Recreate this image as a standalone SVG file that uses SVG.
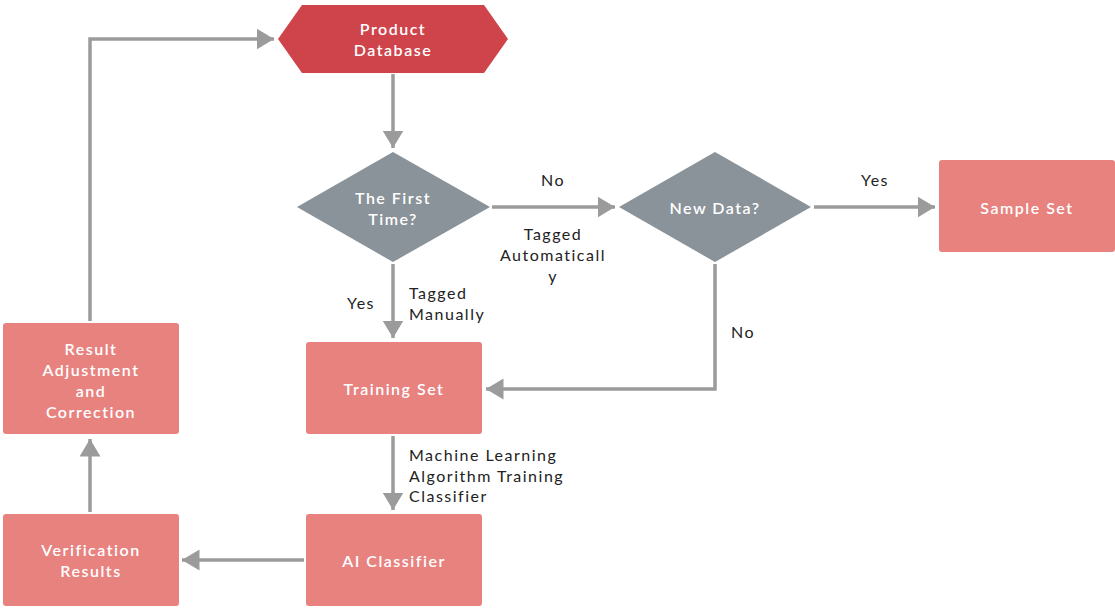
<svg xmlns="http://www.w3.org/2000/svg" width="1115" height="608" viewBox="0 0 1115 608">
<defs>
<marker id="ah" markerWidth="6" markerHeight="6" refX="5" refY="3" orient="auto" markerUnits="strokeWidth">
<path d="M0,0 L5,3 L0,6 Z" fill="#9b9b9b"/>
</marker>
<style>
.c{fill:none;stroke:#9b9b9b;stroke-width:3.5;marker-end:url(#ah)}
.n{fill:#e8827f}
.d{fill:#8a9399}
.t{font-family:Lato,"Noto Sans",sans-serif;font-size:16px;font-weight:600;fill:#ffffff;text-anchor:middle;letter-spacing:1.5px}
.l{font-family:Lato,"Noto Sans",sans-serif;font-size:16px;fill:#222222;letter-spacing:1.5px}
</style>
</defs>
<rect width="1115" height="608" fill="#ffffff"/>
<g id="connectors">
<path class="c" d="M393,74 V148"/>
<path class="c" d="M492,207 H615"/>
<path class="c" d="M814,207 H935"/>
<path class="c" d="M393,264 V338"/>
<path class="c" d="M715,264 V389 H486"/>
<path class="c" d="M393,436 V510"/>
<path class="c" d="M304,560 H182"/>
<path class="c" d="M90,512 V439"/>
<path class="c" d="M90,321 V39 H274"/>
</g>
<g id="labels">
<text class="l" x="553" y="186" text-anchor="middle">No</text>
<text class="l" x="553" y="240" text-anchor="middle">Tagged</text>
<text class="l" x="553" y="261" text-anchor="middle">Automaticall</text>
<text class="l" x="553" y="282" text-anchor="middle">y</text>
<text class="l" x="875" y="186" text-anchor="middle">Yes</text>
<text class="l" x="361" y="309" text-anchor="middle">Yes</text>
<text class="l" x="409" y="299">Tagged</text>
<text class="l" x="409" y="320">Manually</text>
<text class="l" x="731" y="338">No</text>
<text class="l" x="409" y="461">Machine Learning</text>
<text class="l" x="409" y="482">Algorithm Training</text>
<text class="l" x="409" y="502">Classifier</text>
</g>
<g id="product-database">
<path d="M278,39 L302,5 H484 L508,39 L484,73 H302 Z" fill="#cf444b"/>
<text class="t" x="393" y="35">Product</text>
<text class="t" x="393" y="56">Database</text>
</g>
<g id="first-time">
<path class="d" d="M393,152 L490,207 L393,262 L297,207 Z"/>
<text class="t" x="393" y="204">The First</text>
<text class="t" x="393" y="225">Time?</text>
</g>
<g id="new-data">
<path class="d" d="M715,152 L811,207 L715,262 L619,207 Z"/>
<text class="t" x="715" y="214">New Data?</text>
</g>
<g id="sample-set">
<rect class="n" x="939" y="160" width="176" height="92" rx="3"/>
<text class="t" x="1027" y="214">Sample Set</text>
</g>
<g id="training-set">
<rect class="n" x="306" y="342" width="176" height="92" rx="3"/>
<text class="t" x="394" y="395">Training Set</text>
</g>
<g id="ai-classifier">
<rect class="n" x="306" y="514" width="176" height="92" rx="3"/>
<text class="t" x="394" y="567">AI Classifier</text>
</g>
<g id="verification-results">
<rect class="n" x="3" y="514" width="176" height="92" rx="3"/>
<text class="t" x="91" y="556">Verification</text>
<text class="t" x="91" y="577">Results</text>
</g>
<g id="result-adjustment">
<rect class="n" x="3" y="323" width="176" height="111" rx="3"/>
<text class="t" x="91" y="355">Result</text>
<text class="t" x="91" y="376">Adjustment</text>
<text class="t" x="91" y="397">and</text>
<text class="t" x="91" y="418">Correction</text>
</g>
</svg>
